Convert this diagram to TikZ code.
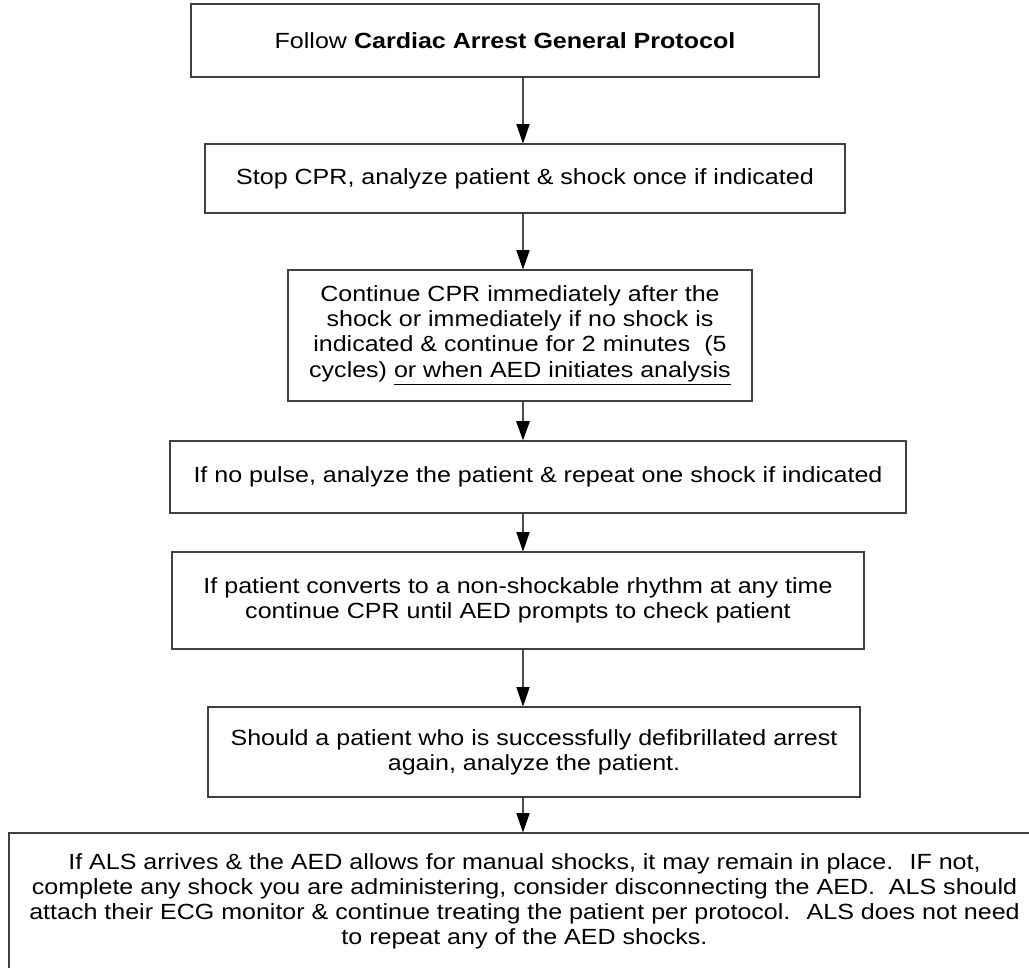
\documentclass[tikz,border=0pt]{standalone}
\usepackage{fontspec}
\setmainfont{Liberation Sans}[FakeStretch=1.14]
\usetikzlibrary{
    arrows.meta,
    positioning
}
\tikzset{
    stepbox/.style={draw=black!75, line width=0.6pt, align=center, inner sep=0pt,
        font=\fontsize{12.5}{14.3}\selectfont},
    wd/.style={minimum width=#1*0.02cm},
    ht/.style={minimum height=#1*0.02cm},
    flow/.style={draw=black!70, line width=0.6pt, -{Triangle[length=11pt, width=7.5pt, color=black]}}
}

\begin{document}
\begin{tikzpicture}[x=0.02cm, y=-0.02cm]
                        \useasboundingbox (0, 0) rectangle (1029, 968);
                        \clip (0, 0) rectangle (1029, 968);
                        \coordinate (axis) at (523, 0);

                        \node[stepbox, wd=628, ht=73] (follow) at (505, 40.5) {Follow \textbf{Cardiac Arrest General Protocol}};
                        \node[stepbox, wd=640, ht=69] (stop) at (525, 178.5) {Stop CPR, analyze patient \& shock once if indicated};
                        \node[stepbox, wd=464, ht=131] (cont) at (520, 335.5) {Continue CPR immediately after the\\shock or immediately if no shock is\\indicated \& continue for 2 minutes~ (5\\cycles) \underline{or when AED initiates analysis}};
                        \node[stepbox, wd=736, ht=72] (nopulse) at (538, 477) {If no pulse, analyze the patient \& repeat one shock if indicated};
                        \node[stepbox, wd=692, ht=97] (convert) at (518, 600.5) {If patient converts to a non-shockable rhythm at any time\\continue CPR until AED prompts to check patient};
                        \node[stepbox, wd=652, ht=90] (again) at (534, 752) {Should a patient who is successfully defibrillated arrest\\again, analyze the patient.};
                        \node[stepbox, wd=1031, ht=137] (als) at (524.5, 901.5) {If ALS arrives \& the AED allows for manual shocks, it may remain in place.~ IF not,\\complete any shock you are administering, consider disconnecting the AED.~ ALS should\\attach their ECG monitor \& continue treating the patient per protocol.~ ALS does not need\\to repeat any of the AED shocks.};

                        \draw
                        (axis |- follow.south) edge[flow] (axis |- stop.north)
                        (axis |- stop.south) edge[flow] (axis |- cont.north)
                        (axis |- cont.south) edge[flow, line width=1.4pt] (axis |- nopulse.north)
                        (axis |- nopulse.south) edge[flow] (axis |- convert.north)
                        (axis |- convert.south) edge[flow] (axis |- again.north)
                        (axis |- again.south) edge[flow] (axis |- als.north);
                    \end{tikzpicture}
\end{document}
